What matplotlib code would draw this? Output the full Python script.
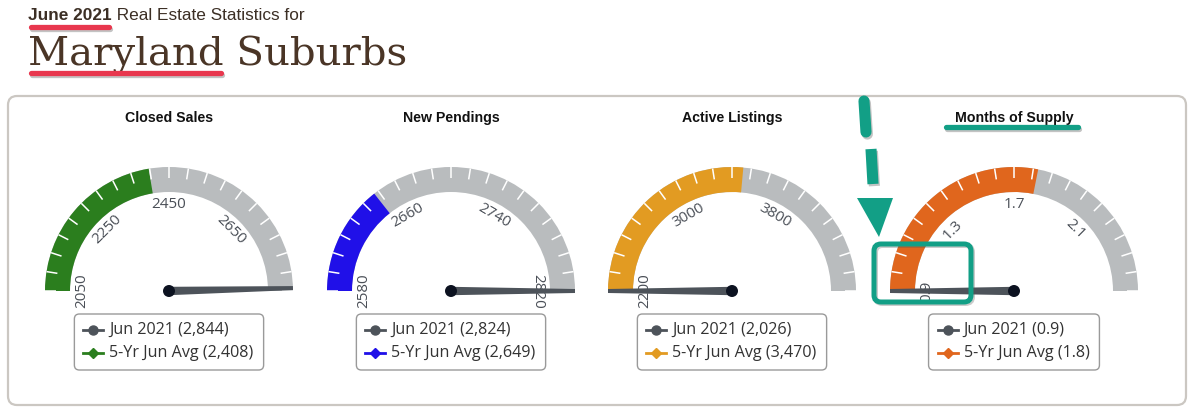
import numpy as np
import matplotlib
matplotlib.use("Agg")
import matplotlib.pyplot as plt
from matplotlib.patches import Wedge, Polygon, Circle, FancyBboxPatch
from matplotlib.lines import Line2D
import matplotlib.patheffects as pe

# ---------------- data ----------------
gauge_titles = ["Closed Sales", "New Pendings", "Active Listings", "Months of Supply"]
current_values = [2844, 2824, 2026, 0.9]
avg_values = [2408, 2649, 3470, 1.8]
scale_min = [2050, 2580, 2200, 0.9]
scale_max = [2850, 2820, 4600, 2.5]
label_values = [[2050, 2250, 2450, 2650],
                [2580, 2660, 2740, 2820],
                [2200, 3000, 3800],
                [0.9, 1.3, 1.7, 2.1]]
series_colors = ["#2b7e1e", "#2010e8", "#e29b22", "#e0661d"]
current_label = "Jun 2021"
avg_label = "5-Yr Jun Avg"
header_bold = "June 2021"
header_rest = " Real Estate Statistics for"
region_name = "Maryland Suburbs"

# ---------------- layout ----------------
W, H = 1200, 420
fig = plt.figure(figsize=(12, 4.2), dpi=100)
fig.patch.set_facecolor("white")
ax = fig.add_axes([0, 0, 1, 1])
ax.set_xlim(0, W)
ax.set_ylim(H, 0)
ax.axis("off")

centers_x = [169, 451, 732, 1014]
cy = 291
R_out = 124
band = 25
band_gray = "#b9bcbe"
needle_col = "#4d535a"
text_gray = "#4a4f57"
lbl_font = ["Open Sans", "DejaVu Sans"]


def phi_of(v, lo, hi):
    v = min(max(v, lo), hi)
    return 180.0 - (v - lo) / (hi - lo) * 180.0


def pt(cx, r, phi):
    a = np.deg2rad(phi)
    return cx + r * np.cos(a), cy - r * np.sin(a)


def fmt(v):
    if float(v).is_integer() and abs(v) >= 10:
        return f"{v:,.0f}"
    return f"{v}"


def fmt_plain(v):
    if float(v).is_integer() and abs(v) >= 10:
        return f"{v:.0f}"
    return f"{v}"


# outer panel
ax.add_patch(FancyBboxPatch((8, 96), 1178, 309, boxstyle="round,pad=0,rounding_size=9",
                            fc="white", ec="#cbc7c2", lw=1.6, zorder=0))

fig.canvas.draw()
renderer = fig.canvas.get_renderer()

for i in range(4):
    cx = centers_x[i]
    lo, hi = scale_min[i], scale_max[i]
    # title
    ax.text(cx, 118, gauge_titles[i], ha="center", va="center", fontsize=10.2,
            fontweight="bold", family=["Liberation Sans", "DejaVu Sans"], color="#111111", zorder=5)
    # gray background band
    ax.add_patch(Wedge((cx, cy), R_out, -180, 0, width=band, fc=band_gray, ec="none", zorder=1))
    # colored band up to avg
    pa = phi_of(avg_values[i], lo, hi)
    ax.add_patch(Wedge((cx, cy), R_out, -180, -pa, width=band, fc=series_colors[i], ec="none", zorder=2))
    # ticks
    for k in range(21):
        ph = 180 - 9 * k
        x0, y0 = pt(cx, R_out, ph)
        x1, y1 = pt(cx, R_out - 11, ph)
        ax.plot([x0, x1], [y0, y1], color="white", lw=1.1, zorder=3, solid_capstyle="butt")
    # labels
    for v in label_values[i]:
        ph = phi_of(v, lo, hi)
        x, y = pt(cx, 87, ph)
        ax.text(x, y, fmt_plain(v), rotation=ph - 90, rotation_mode="anchor",
                ha="center", va="center", fontsize=11, family=lbl_font, color=text_gray, zorder=4)
    # needle
    pn = phi_of(current_values[i], lo, hi)
    a = np.deg2rad(pn)
    d = np.array([np.cos(a), -np.sin(a)])
    n = np.array([-d[1], d[0]])
    c = np.array([cx, cy])
    tip = c + d * R_out
    poly = [c + n * 4.2, tip + n * 2, tip - n * 2, c - n * 4.2]
    ax.add_patch(Polygon(poly, closed=True, fc=needle_col, ec="none", zorder=6))
    ax.add_patch(Circle((cx, cy), 6, fc="#0c1220", ec="none", zorder=7))

    # legend
    t1 = ax.text(0, 330, f"{current_label} ({fmt(current_values[i])})", ha="left", va="center",
                 fontsize=11.6, family=lbl_font, color="#333333", zorder=9)
    t2 = ax.text(0, 353, f"{avg_label} ({fmt(avg_values[i])})", ha="left", va="center",
                 fontsize=11.6, family=lbl_font, color="#333333", zorder=9)
    w1 = t1.get_window_extent(renderer).width
    w2 = t2.get_window_extent(renderer).width
    bw = 35 + max(w1, w2) + 10
    bx = cx - bw / 2
    t1.set_x(bx + 35)
    t2.set_x(bx + 35)
    ax.add_patch(FancyBboxPatch((bx, 314), bw, 56, boxstyle="round,pad=0,rounding_size=5",
                                fc="white", ec="#9a9a9a", lw=1.0, zorder=8))
    ax.add_line(Line2D([bx + 9, bx + 29], [330, 330], color=needle_col, lw=2, zorder=9))
    ax.plot([bx + 19], [330], marker="o", markersize=6.5, color=needle_col, zorder=10)
    ax.add_line(Line2D([bx + 9, bx + 29], [353, 353], color=series_colors[i], lw=2, zorder=9))
    ax.plot([bx + 19], [353], marker="D", markersize=5, color=series_colors[i], zorder=10)

# header
brown = "#4a3526"
t = ax.text(28, 16, header_bold, ha="left", va="center", fontsize=12.4, fontweight="bold",
            family=["Liberation Sans", "DejaVu Sans"], color="#3c2f25", zorder=5)
bb = t.get_window_extent(renderer)
inv = ax.transData.inverted()
x_end = inv.transform((bb.x1, bb.y0))[0]
ax.text(x_end, 16, header_rest, ha="left", va="center", fontsize=12.4,
        family=["Liberation Sans", "DejaVu Sans"], color="#3c2f25", zorder=5)
ax.text(28, 66, region_name, ha="left", va="baseline", fontsize=29,
        family=["DejaVu Serif"], color=brown, zorder=5)

# annotation overlays
shadow = [pe.SimpleLineShadow(offset=(1, -1.5), shadow_color="#555555", alpha=0.35), pe.Normal()]
red = "#e8374e"
ax.plot([31, 109], [27, 27], color=red, lw=3.8, solid_capstyle="round", path_effects=shadow, zorder=6)
ax.plot([31, 221], [73, 73], color=red, lw=3.8, solid_capstyle="round", path_effects=shadow, zorder=6)

teal = "#129f86"
ax.plot([946, 1078], [127, 127], color=teal, lw=3.8, solid_capstyle="round", path_effects=shadow, zorder=6)
ax.plot([864, 866], [101, 132], color=teal, lw=8, solid_capstyle="round", path_effects=shadow, zorder=6)
ax.plot([871, 873], [149, 184], color=teal, lw=8, solid_capstyle="butt", path_effects=shadow, zorder=6)
ax.add_patch(Polygon([[857, 198], [893, 198], [879, 237]], closed=True, fc=teal, ec="none", zorder=6))
ax.add_patch(FancyBboxPatch((875.5, 245.5), 97, 58, boxstyle="round,pad=0,rounding_size=7",
                            fc="none", ec="#555555", alpha=0.3, lw=3.6, zorder=10.5))
ax.add_patch(FancyBboxPatch((874, 244), 97, 58, boxstyle="round,pad=0,rounding_size=7",
                            fc="none", ec=teal, lw=3.6, zorder=11))

fig.savefig("out.png", dpi=100, facecolor="white")
